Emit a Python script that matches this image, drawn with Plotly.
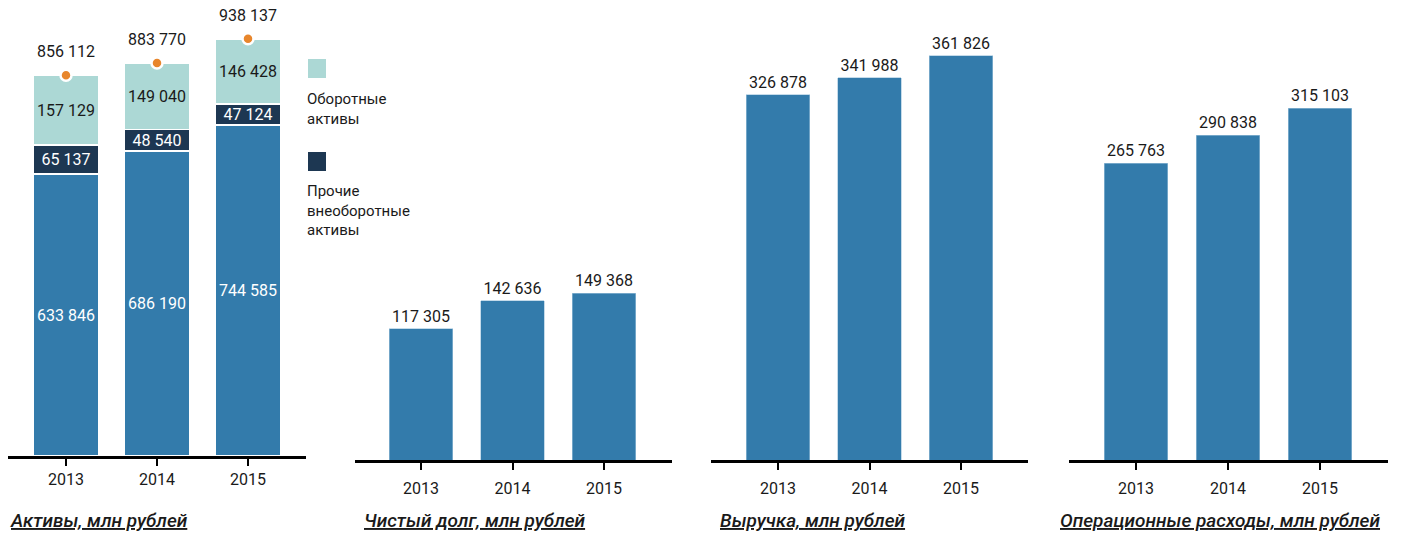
import plotly.graph_objects as go

W, H = 1407, 536

years = ["2013", "2014", "2015"]
# Panel 1: assets
noncurrent_main = [633846, 686190, 744585]
noncurrent_other = [65137, 48540, 47124]
current_assets = [157129, 149040, 146428]
total_assets = [856112, 883770, 938137]
# Panels 2-4
net_debt = [117305, 142636, 149368]
revenue = [326878, 341988, 361826]
opex = [265763, 290838, 315103]

titles = ["Активы, млн рублей", "Чистый долг, млн рублей", "Выручка, млн рублей",
          "Операционные расходы, млн рублей"]
legend_labels = ["Оборотные<br>активы", "Прочие<br>внеоборотные<br>активы"]

BLUE = "#337bab"
NAVY = "#1d3752"
TEAL = "#acd8d5"
ORANGE = "#e8862c"
FONT = "Roboto, Liberation Sans Narrow, sans-serif"
TXT = "#1a1a1a"


def fmt(v):
    return f"{v:,}".replace(",", " ")


def px_x(p):
    return p / W


def px_y(p):
    return (H - p) / H


fig = go.Figure()

# ---- Panel 1 (stacked)
for vals, col, tcol in [(noncurrent_main, BLUE, "white"), (noncurrent_other, NAVY, "white"),
                        (current_assets, TEAL, TXT)]:
    fig.add_trace(go.Bar(x=years, y=vals, marker=dict(color=col, line=dict(color="white", width=1.5)),
                         text=[fmt(v) for v in vals], textposition="inside", insidetextanchor="middle",
                         textfont=dict(color=tcol, size=16, family=FONT), width=0.72,
                         xaxis="x", yaxis="y", showlegend=False))
fig.add_trace(go.Scatter(x=years, y=total_assets, mode="markers",
                         marker=dict(color=ORANGE, size=11, line=dict(color="white", width=2.5)),
                         xaxis="x", yaxis="y", showlegend=False, cliponaxis=False))
for i, v in enumerate(total_assets):
    fig.add_annotation(x=i, y=v, xref="x", yref="y", text=fmt(v), showarrow=False,
                       yanchor="bottom", yshift=12, font=dict(size=16, color=TXT, family=FONT))

# ---- Panels 2-4
for i, vals in enumerate([net_debt, revenue, opex], start=2):
    fig.add_trace(go.Bar(x=years, y=vals, marker=dict(color=BLUE, line=dict(color="#9ec3dc", width=0.6)),
                         text=[fmt(v) for v in vals], textposition="outside",
                         textfont=dict(color=TXT, size=16, family=FONT), width=0.69,
                         cliponaxis=False, xaxis=f"x{i}", yaxis=f"y{i}", showlegend=False))

# axis geometry (pixels): line start, line end, first tick, tick spacing, baseline, y max
panels = [
    (8, 306, 66, 91.0, 456, 980400),
    (355, 672, 421, 91.5, 460, 393900),
    (711, 1028, 778, 91.5, 460, 393900),
    (1069, 1388, 1136, 92.0, 460, 393900),
]

layout = {}
for i, (x0, x1, t0, sp, base, ymax) in enumerate(panels, start=1):
    suf = "" if i == 1 else str(i)
    layout[f"xaxis{suf}"] = dict(
        domain=[px_x(x0), px_x(x1)], anchor=f"y{suf}", type="category",
        range=[(x0 - t0) / sp, (x1 - t0) / sp],
        showline=True, linecolor="black", linewidth=2.5, ticks="outside", ticklen=7, tickwidth=2.2,
        tickcolor="black", showgrid=False, zeroline=False,
        tickfont=dict(size=16, color=TXT, family=FONT),
        ticklabelstandoff=0 if i == 1 else 5,
    )
    layout[f"yaxis{suf}"] = dict(
        domain=[px_y(base), px_y(20)], anchor=f"x{suf}", range=[0, ymax],
        visible=False, showgrid=False, zeroline=False,
    )

fig.update_layout(**layout)

# titles
title_x = [8, 362, 718, 1058]
for tx, t in zip(title_x, titles):
    fig.add_annotation(x=px_x(tx), y=px_y(520), xref="paper", yref="paper", xanchor="left", yanchor="middle",
                       text=f"<u><i>{t}</i></u>", showarrow=False,
                       font=dict(size=19, color=TXT, family=FONT, weight=500))

# legend
fig.add_shape(type="rect", xref="paper", yref="paper", x0=px_x(308), x1=px_x(326), y0=px_y(78), y1=px_y(59),
              fillcolor=TEAL, line=dict(width=0))
fig.add_shape(type="rect", xref="paper", yref="paper", x0=px_x(308), x1=px_x(326), y0=px_y(171), y1=px_y(152),
              fillcolor=NAVY, line=dict(width=0))
fig.add_annotation(x=px_x(305), y=px_y(88), xref="paper", yref="paper", xanchor="left", yanchor="top",
                   align="left", text=legend_labels[0], showarrow=False,
                   font=dict(size=15, color=TXT, family=FONT))
fig.add_annotation(x=px_x(305), y=px_y(180), xref="paper", yref="paper", xanchor="left", yanchor="top",
                   align="left", text=legend_labels[1], showarrow=False,
                   font=dict(size=15, color=TXT, family=FONT))

fig.update_layout(
    width=W, height=H, margin=dict(l=0, r=0, t=0, b=0),
    paper_bgcolor="white", plot_bgcolor="white", barmode="stack", bargap=0.3,
    font=dict(family=FONT, color=TXT),
    uniformtext=dict(minsize=15, mode="show"),
)

fig.write_html("out.html", config={"displayModeBar": False},
               post_script="document.body.style.margin='0';")
